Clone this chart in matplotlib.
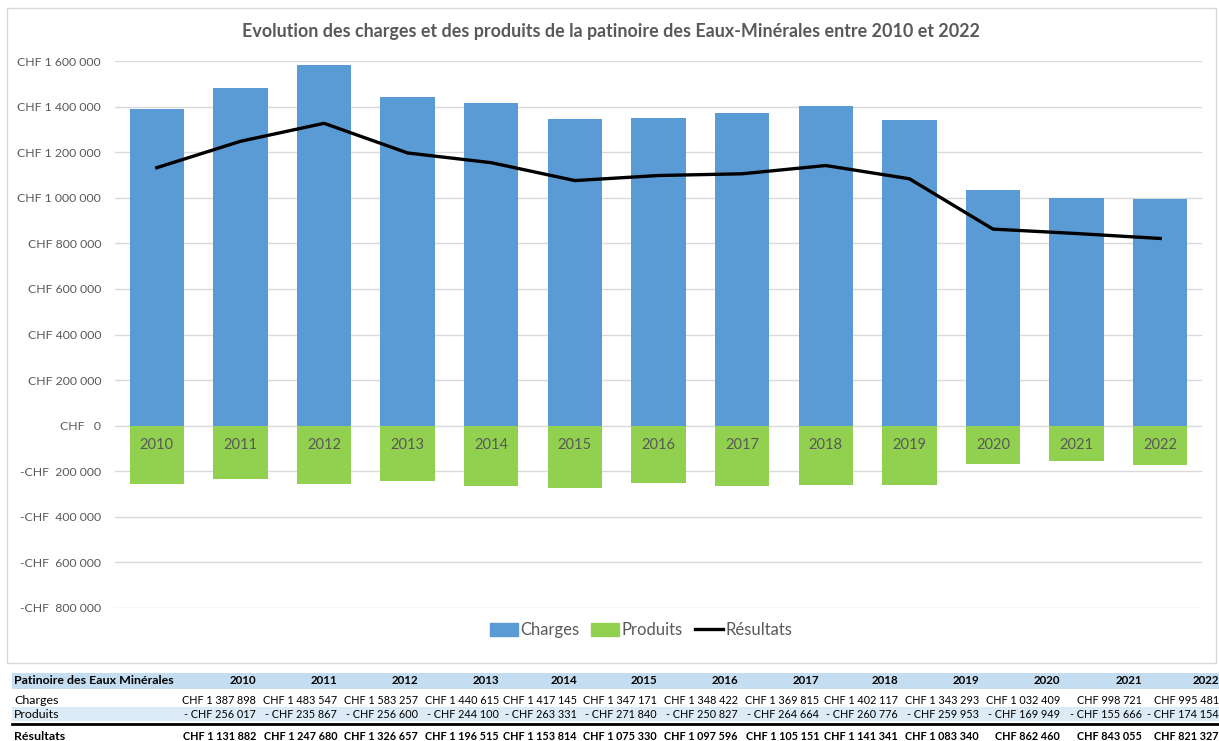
import matplotlib.pyplot as plt
import matplotlib.ticker as mticker
from matplotlib.patches import Rectangle
from matplotlib.lines import Line2D

years = [2010, 2011, 2012, 2013, 2014, 2015, 2016, 2017, 2018, 2019, 2020, 2021, 2022]
charges = [1387898, 1483547, 1583257, 1440615, 1417145, 1347171, 1348422,
           1369815, 1402117, 1343293, 1032409, 998721, 995481]
produits = [-256017, -235867, -256600, -244100, -263331, -271840, -250827,
            -264664, -260776, -259953, -169949, -155666, -174154]
resultats = [1131882, 1247680, 1326657, 1196515, 1153814, 1075330, 1097596,
             1105151, 1141341, 1083340, 862460, 843055, 821327]

BLUE = "#5B9BD5"
GREEN = "#92D050"
GREY_TXT = "#595959"
GRID = "#D9D9D9"

plt.rcParams["font.family"] = ["Lato", "DejaVu Sans"]

W, H = 1219, 741
fig = plt.figure(figsize=(W / 100, H / 100), dpi=100)


def fx(px):
    return px / W


def fy(py):
    return 1 - py / H


# chart frame
fig.patches.append(Rectangle((fx(7), fy(663)), fx(1216) - fx(7), fy(8) - fy(663),
                             transform=fig.transFigure, fill=False,
                             edgecolor=GRID, lw=1))

ax = fig.add_axes([fx(115), fy(608), fx(1202) - fx(115), fy(61) - fy(608)])
x = list(range(len(years)))
ax.bar(x, charges, width=0.65, color=BLUE, zorder=2, label="Charges")
ax.bar(x, produits, width=0.65, color=GREEN, zorder=2, label="Produits")
ax.plot(x, resultats, color="black", lw=2.4, zorder=3, label="Résultats")

ax.set_ylim(-800000, 1600000)
ax.set_xlim(-0.5, len(years) - 0.5)
ax.yaxis.set_major_locator(mticker.MultipleLocator(200000))


def chf(v, pos):
    if v == 0:
        return "CHF   0"
    s = f"{abs(int(v)):,}".replace(",", " ")
    return f"-CHF  {s}" if v < 0 else f"CHF {s}"


ax.yaxis.set_major_formatter(mticker.FuncFormatter(chf))
ax.grid(axis="y", color=GRID, lw=1, zorder=0)
for side in ["top", "right", "left", "bottom"]:
    ax.spines[side].set_visible(False)
ax.set_xticks([])
ax.tick_params(axis="y", length=0, pad=10, labelsize=8.8, labelcolor=GREY_TXT)

# category labels sit just under the zero line, on top of the green bars
for i, yr in enumerate(years):
    ax.annotate(str(yr), xy=(x[i], 0), xytext=(0, -14), textcoords="offset points",
                ha="center", va="center", fontsize=10.5, color=GREY_TXT, zorder=4)

fig.text(fx(611), fy(32), "Evolution des charges et des produits de la patinoire des Eaux-Minérales entre 2010 et 2022",
         ha="center", va="center", fontsize=12.9, fontweight="bold", color=GREY_TXT)

handles = [Rectangle((0, 0), 1, 1, color=BLUE), Rectangle((0, 0), 1, 1, color=GREEN),
           Line2D([0], [0], color="black", lw=2.4)]
fig.legend(handles, ["Charges", "Produits", "Résultats"], loc="center",
           bbox_to_anchor=(fx(641), fy(630)), ncol=3, frameon=False,
           fontsize=12, labelcolor=GREY_TXT, handlelength=1.7, handleheight=0.8,
           handletextpad=0.15, columnspacing=0.7)

# data table below the chart
fig.patches.append(Rectangle((fx(12), fy(689)), fx(1219) - fx(12), fy(673) - fy(689),
                             transform=fig.transFigure, color="#C5DDF1", lw=0))
fig.patches.append(Rectangle((fx(12), fy(721)), fx(1219) - fx(12), fy(707) - fy(721),
                             transform=fig.transFigure, color="#DDEBF7", lw=0))
fig.add_artist(Line2D([fx(12), fx(1219)], [fy(724), fy(724)], color="black", lw=2,
                      transform=fig.transFigure))

col_right = [256, 337, 418, 499, 577, 657, 738, 819, 898, 979, 1060, 1142, 1219]
rows_y = [681, 700, 714, 736]
tfs = 7.8
lfs = 8.9


def money(v):
    s = f"{abs(v):,}".replace(",", " ")
    return f"- CHF {s}" if v < 0 else f"CHF {s}"


fig.text(fx(14), fy(rows_y[0]), "Patinoire des Eaux Minérales", ha="left", va="center",
         fontsize=lfs, fontweight="bold", color="black")
fig.text(fx(14), fy(rows_y[1]), "Charges", ha="left", va="center", fontsize=lfs)
fig.text(fx(14), fy(rows_y[2]), "Produits", ha="left", va="center", fontsize=lfs)
fig.text(fx(14), fy(rows_y[3]), "Résultats", ha="left", va="center", fontsize=lfs,
         fontweight="bold")
for i, yr in enumerate(years):
    xr = fx(col_right[i])
    fig.text(xr, fy(rows_y[0]), str(yr), ha="right", va="center", fontsize=8.3, fontweight="bold")
    fig.text(xr, fy(rows_y[1]), money(charges[i]), ha="right", va="center", fontsize=tfs)
    fig.text(xr, fy(rows_y[2]), money(produits[i]), ha="right", va="center", fontsize=tfs)
    fig.text(xr, fy(rows_y[3]), money(resultats[i]), ha="right", va="center", fontsize=tfs,
             fontweight="bold")

fig.savefig("out.png", dpi=100, facecolor="white")
